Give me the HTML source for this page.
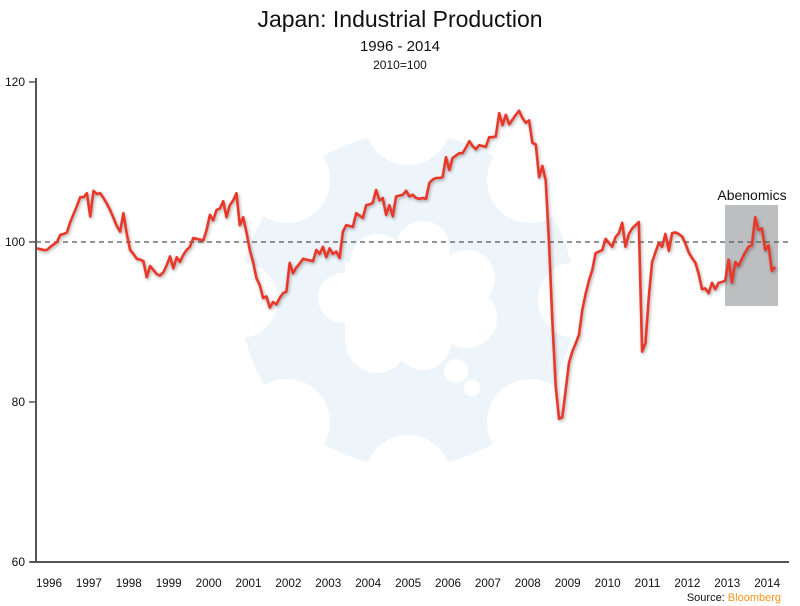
<!DOCTYPE html>
<html><head><meta charset="utf-8"><style>
html,body{margin:0;padding:0;background:#fff;}
svg{display:block;font-family:"Liberation Sans",sans-serif;}
</style></head><body>
<svg id="chart" width="800" height="606" viewBox="0 0 800 606">
<defs>
<filter id="sh" x="-5%" y="-5%" width="110%" height="110%"><feGaussianBlur in="SourceAlpha" stdDeviation="1.5"/><feOffset dx="1" dy="1.5"/><feComponentTransfer><feFuncA type="linear" slope="0.35"/></feComponentTransfer><feMerge><feMergeNode/><feMergeNode in="SourceGraphic"/></feMerge></filter>
<mask id="logoMask">
<rect x="0" y="0" width="800" height="606" fill="#000"/>
<circle cx="408" cy="300" r="167" fill="#fff"/>
<circle cx="408" cy="122" r="43" fill="#000"/>
<circle cx="408" cy="478" r="43" fill="#000"/>
<circle cx="287" cy="180" r="43" fill="#000"/>
<circle cx="530" cy="180" r="43" fill="#000"/>
<circle cx="287" cy="422" r="43" fill="#000"/>
<circle cx="530" cy="422" r="43" fill="#000"/>
<circle cx="240" cy="300" r="38" fill="#000"/>
<circle cx="576" cy="300" r="38" fill="#000"/>
<circle cx="343" cy="298" r="25" fill="#000"/>
<circle cx="378" cy="262" r="28" fill="#000"/>
<circle cx="423" cy="248" r="27" fill="#000"/>
<circle cx="467" cy="278" r="28" fill="#000"/>
<circle cx="467" cy="318" r="30" fill="#000"/>
<circle cx="423" cy="342" r="28" fill="#000"/>
<circle cx="377" cy="342" r="31" fill="#000"/>
<rect x="345" y="262" width="122" height="82" fill="#000"/>
<circle cx="456" cy="371" r="12" fill="#000"/>
<circle cx="472" cy="388" r="8" fill="#000"/>
</mask>
</defs>
<rect x="0" y="0" width="800" height="606" fill="#edf5fb" mask="url(#logoMask)"/>
<text x="400" y="27" text-anchor="middle" font-size="23" fill="#111">Japan: Industrial Production</text>
<text x="400" y="51" text-anchor="middle" font-size="15" fill="#111">1996 - 2014</text>
<text x="400" y="69" text-anchor="middle" font-size="12" fill="#111">2010=100</text>
<rect x="725" y="205" width="53" height="101" fill="#bdbec0"/>
<text x="752" y="200" text-anchor="middle" font-size="14" fill="#111">Abenomics</text>
<g id="axes"></g>
<line x1="36" y1="242" x2="788" y2="242" stroke="#555" stroke-width="1.3" stroke-dasharray="5,4"/>
<g id="series" filter="url(#sh)"></g>
<text x="781" y="601" text-anchor="end" font-size="11" fill="#111">Source: <tspan fill="#f7941d">Bloomberg</tspan></text>
</svg>
<script>
const values = [99.2,99.1,99.0,99.0,99.4,99.7,100.0,100.9,101.0,101.2,102.5,103.5,
104.5,105.6,105.6,106.1,103.2,106.4,106.0,106.1,105.5,104.8,104.0,103.0,
102.0,101.3,103.6,101.0,99.0,98.5,97.9,97.8,97.6,95.6,97.0,96.5,
96.0,95.8,96.2,97.1,98.2,96.7,98.1,97.5,98.4,99.0,99.4,100.5,
100.4,100.3,100.2,101.5,103.4,102.7,104.0,104.2,105.1,103.1,104.6,105.2,
106.1,102.1,103.1,101.2,99.0,97.5,95.5,94.6,93.0,93.2,91.8,92.5,
92.2,93.0,93.6,93.8,97.4,96.1,96.8,97.3,97.9,97.8,97.7,97.6,
99.0,98.5,99.4,98.1,99.2,98.5,98.8,98.0,101.3,102.1,102.0,101.9,
103.6,103.3,103.0,104.6,104.7,104.9,106.5,105.2,105.5,103.4,104.6,103.2,
105.7,105.8,105.9,106.4,105.7,105.9,105.5,105.4,105.5,105.4,107.4,107.8,
108.0,108.0,108.1,110.6,109.0,110.5,110.8,111.1,111.1,111.8,112.6,112.0,
111.6,112.1,112.0,111.9,113.1,113.1,113.2,116.1,114.6,115.9,114.7,115.3,
115.9,116.4,115.5,114.9,115.2,112.4,112.2,108.1,109.5,107.7,100.0,90.0,
82.0,77.9,78.1,81.5,84.9,86.3,87.3,88.4,91.5,93.5,95.2,96.5,
98.6,98.8,99.0,100.4,99.9,99.4,100.6,101.1,102.4,99.4,101.0,101.7,
102.1,102.5,86.3,87.4,93.1,97.5,98.7,99.9,99.4,101.0,98.9,101.1,
101.2,101.0,100.7,99.8,98.7,98.0,97.4,96.0,94.1,94.2,93.6,94.9,
94.1,94.9,95.0,95.2,97.8,94.9,97.5,97.0,97.9,98.7,99.4,99.6,
103.1,101.5,101.7,99.0,99.6,96.4,96.9];
const startYear = 1996;
const yearLabels = ["1996","1997","1998","1999","2000","2001","2002","2003","2004","2005","2006","2007","2008","2009","2010","2011","2012","2013","2014"];
const yTicks = [60,80,100,120];

const NS = "http://www.w3.org/2000/svg";
const X0 = 37, YEARW = 39.9;
function xScale(monthIndex){ return X0 + monthIndex/12*YEARW; }
function yScale(v){ return 562 - (v-60)*8; }
function mk(tag, attrs, parent){ const e=document.createElementNS(NS,tag); for(const k in attrs) e.setAttribute(k,attrs[k]); parent.appendChild(e); return e; }

const axes = document.getElementById('axes');
const yAxis = mk('line',{x1:36,y1:78,x2:36,y2:563,stroke:'#555','stroke-width':2},axes);


const xAxis = mk('line',{x1:30,y1:562,x2:789,y2:562,stroke:'#555','stroke-width':2},axes);


yTicks.forEach(t=>{
  const tk = mk('line',{x1:29,y1:yScale(t),x2:36,y2:yScale(t),stroke:'#555','stroke-width':1.5},axes);
  
  
  const lb = mk('text',{x:25,y:yScale(t)+4,'text-anchor':'end','font-size':12,fill:'#111'},axes);
  lb.textContent = t;
  
  
});
yearLabels.forEach((y,i)=>{
  const lb = mk('text',{x:xScale(i*12)+12,y:587,'text-anchor':'middle','font-size':12,fill:'#111',textLength:26,lengthAdjust:'spacingAndGlyphs'},axes);
  lb.textContent = y;
  
  
});

const pts = values.map((v,i)=>xScale(i).toFixed(1)+','+yScale(v).toFixed(1)).join(' ');
const line = mk('polyline',{points:pts,fill:'none',stroke:'#e8392c','stroke-width':2.6,'stroke-linejoin':'round'},document.getElementById('series'));


</script>
</body></html>
